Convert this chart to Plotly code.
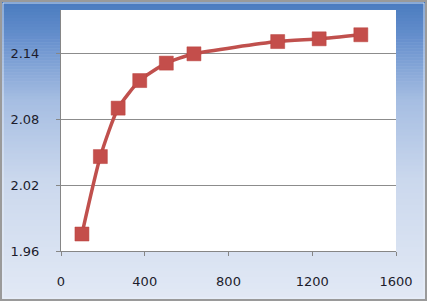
import plotly.graph_objects as go

x_vals = [100, 188, 273, 376, 503, 635, 1035, 1233, 1432]
y_vals = [1.9755, 2.0462, 2.0904, 2.1156, 2.1315, 2.1400, 2.1512, 2.1537, 2.1574]
y_ticks = [1.96, 2.02, 2.08, 2.14]
x_ticks = [0, 400, 800, 1200, 1600]

W, H = 427, 301
L, R, T, B = 61, 31, 10, 50
pw, ph = W - L - R, H - T - B


def px2paper_x(px):
    return (px - L) / pw


def py2paper_y(py):
    return (H - B - py) / ph


stops = [(0.0, (72, 122, 190)), (0.12, (100, 142, 204)), (0.33, (165, 189, 226)),
         (0.6, (203, 216, 237)), (1.0, (226, 233, 245))]


def grad(t):
    for (t0, c0), (t1, c1) in zip(stops[:-1], stops[1:]):
        if t0 <= t <= t1:
            f = (t - t0) / (t1 - t0)
            return "rgb(%d,%d,%d)" % tuple(round(a + (b - a) * f) for a, b in zip(c0, c1))
    return "rgb(%d,%d,%d)" % stops[-1][1]


shapes = []
N = 100
for i in range(N):
    y0 = H * i / N
    y1 = H * (i + 1) / N + 0.6
    shapes.append(dict(type="rect", xref="paper", yref="paper", layer="below",
                       x0=px2paper_x(0), x1=px2paper_x(W),
                       y0=py2paper_y(y1), y1=py2paper_y(y0),
                       fillcolor=grad((i + 0.5) / N), line=dict(width=0)))
# plot area white
shapes.append(dict(type="rect", xref="paper", yref="paper", layer="below",
                   x0=0, x1=1, y0=0, y1=1, fillcolor="white", line=dict(width=0)))
# outer border
shapes.append(dict(type="rect", xref="paper", yref="paper", layer="above",
                   x0=px2paper_x(1), x1=px2paper_x(W - 1),
                   y0=py2paper_y(H - 1), y1=py2paper_y(1),
                   line=dict(color="#9a9a9a", width=2)))
shapes.append(dict(type="rect", xref="paper", yref="paper", layer="above",
                   x0=px2paper_x(3), x1=px2paper_x(W - 3),
                   y0=py2paper_y(H - 3), y1=py2paper_y(3),
                   line=dict(color="rgba(235,241,250,0.8)", width=1)))

fig = go.Figure()
fig.add_trace(go.Scatter(
    x=x_vals, y=y_vals, mode="lines+markers",
    line=dict(color="#c0504d", width=3.5, shape="spline", smoothing=0.6),
    marker=dict(symbol="square", size=14, color="#c44e4b",
                line=dict(color="#b8403d", width=0.5)),
    showlegend=False, cliponaxis=False,
))

font = dict(family="DejaVu Sans", size=13, color="#1c1c2c")
fig.update_layout(
    width=W, height=H,
    margin=dict(l=L, r=R, t=T, b=B),
    paper_bgcolor="rgb(200,214,236)",
    plot_bgcolor="white",
    shapes=shapes,
    font=font,
    xaxis=dict(range=[0, 1600], tickvals=x_ticks, ticktext=[str(v) for v in x_ticks],
               showgrid=False, zeroline=False, showline=True, linecolor="#868686",
               linewidth=1, ticks="outside", ticklen=4, tickcolor="#868686",
               ticklabelstandoff=14, tickfont=font, fixedrange=True),
    yaxis=dict(range=[1.96, 2.18], tickvals=y_ticks, ticktext=["%.2f" % v for v in y_ticks],
               showgrid=True, gridcolor="#8c8c8c", gridwidth=1, zeroline=False,
               showline=True, linecolor="#868686", linewidth=1,
               ticks="outside", ticklen=4, tickcolor="#868686",
               ticklabelstandoff=14, tickfont=font, fixedrange=True),
)

fig.write_html("out.html")
